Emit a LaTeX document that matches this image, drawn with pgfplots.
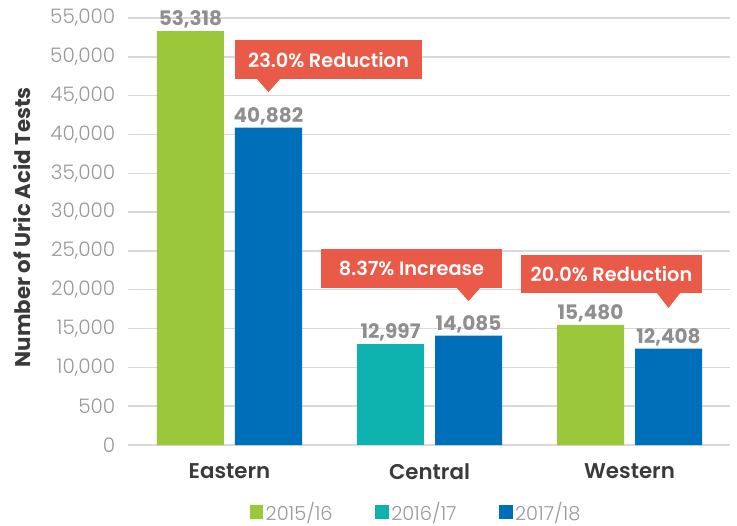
\documentclass[border=0pt]{standalone}
\usepackage{fontspec}
\setmainfont{Poppins}
\newfontfamily\lightfont{Poppins Light}
\newfontfamily\semifont{Poppins SemiBold}
\usepackage{pgfplots}
\pgfplotsset{compat=1.18}
\definecolor{cgreen}{HTML}{9BC83B}
\definecolor{cteal}{HTML}{0EB2AF}
\definecolor{cblue}{HTML}{006FB9}
\definecolor{cred}{HTML}{EA5A48}
\definecolor{valgray}{HTML}{8F8F8F}
\definecolor{tickgray}{HTML}{999999}
\definecolor{darktext}{HTML}{3A3A3A}
\definecolor{gridgray}{HTML}{D9D9D9}
\begin{document}
\begin{tikzpicture}
\begin{axis}[
    scale only axis,
    width=451.5pt, height=320.25pt,
    xmin=-0.5075, xmax=2.5025,
    ymin=0, ymax=55000,
    ybar, bar width=0.335, bar shift=0pt,
    clip=false,
    axis line style={draw=none},
    tick style={draw=none},
    ymajorgrids,
    major grid style={color=gridgray, line width=1.1pt},
    xtick={0,1,2},
    xticklabels={Eastern,Central,Western},
    xticklabel style={font=\semifont\fontsize{16}{19}\selectfont, text=darktext, yshift=-6pt},
    ytick={0,5000,...,55000},
    scaled y ticks=false,
    yticklabels={0,500,{10,000},{15,000},{20,000},{25,000},{30,000},{35,000},{40,000},{45,000},{50,000},{55,000}},
    yticklabel style={font=\lightfont\fontsize{15}{18}\selectfont, text=tickgray, xshift=-6pt},
    /pgf/number format/assume math mode=true,
    ylabel={Number of Uric Acid Tests},
    ylabel style={font=\bfseries\fontsize{16}{19}\selectfont, text=darktext, at={(rel axis cs:-0.176,0.51)}, anchor=center},
    nodes near coords={\pgfmathprintnumber[fixed,precision=0,1000 sep={,}]{\pgfplotspointmeta}},
    every node near coord/.append style={font=\bfseries\fontsize{15}{18}\selectfont, text=valgray, inner sep=2pt},
    legend style={at={(rel axis cs:0.479,-0.157)}, anchor=center, draw=none, fill=none,
        legend columns=3, font=\lightfont\fontsize{14.5}{17}\selectfont, text=tickgray,
        nodes={inner xsep=2pt},
        /tikz/every even column/.append style={column sep=30pt}},
    legend image code/.code={\fill[#1] (0pt,-5pt) rectangle (10pt,5pt);},
]
\addplot[fill=cgreen, draw=none] coordinates {(-0.195,53318) (1.805,15480)};
\addlegendentry{2015/16}
\addplot[fill=cteal, draw=none] coordinates {(0.805,12997)};
\addlegendentry{2016/17}
\addplot[fill=cblue, draw=none] coordinates {(0.195,40882) (1.195,14085) (2.195,12408)};
\addlegendentry{2017/18}

% callouts
\fill[cred] (axis cs:0.0275,47141) rectangle (axis cs:0.9625,52164);
\fill[cred] (axis cs:0.135,47200) -- (axis cs:0.195,45466) -- (axis cs:0.255,47200) -- cycle;
\node[text=white, font=\semifont\fontsize{14.5}{17}\selectfont] at (axis cs:0.495,49650) {23.0\% Reduction};

\fill[cred] (axis cs:0.4575,20222) rectangle (axis cs:1.3625,25245);
\fill[cred] (axis cs:1.135,20280) -- (axis cs:1.195,18547) -- (axis cs:1.255,20280) -- cycle;
\node[text=white, font=\semifont\fontsize{14.5}{17}\selectfont] at (axis cs:0.91,22733) {8.37\% Increase};

\fill[cred] (axis cs:1.4575,19578) rectangle (axis cs:2.3625,24472);
\fill[cred] (axis cs:2.135,19640) -- (axis cs:2.195,17646) -- (axis cs:2.255,19640) -- cycle;
\node[text=white, font=\semifont\fontsize{14.5}{17}\selectfont] at (axis cs:1.91,22025) {20.0\% Reduction};

\coordinate (bbA) at (rel axis cs:-0.2126,-0.1874);
\coordinate (bbB) at (rel axis cs:1.0116,1.0422);
\end{axis}
\pgfresetboundingbox
\path[use as bounding box] (bbA) rectangle (bbB);
\end{tikzpicture}
\end{document}
